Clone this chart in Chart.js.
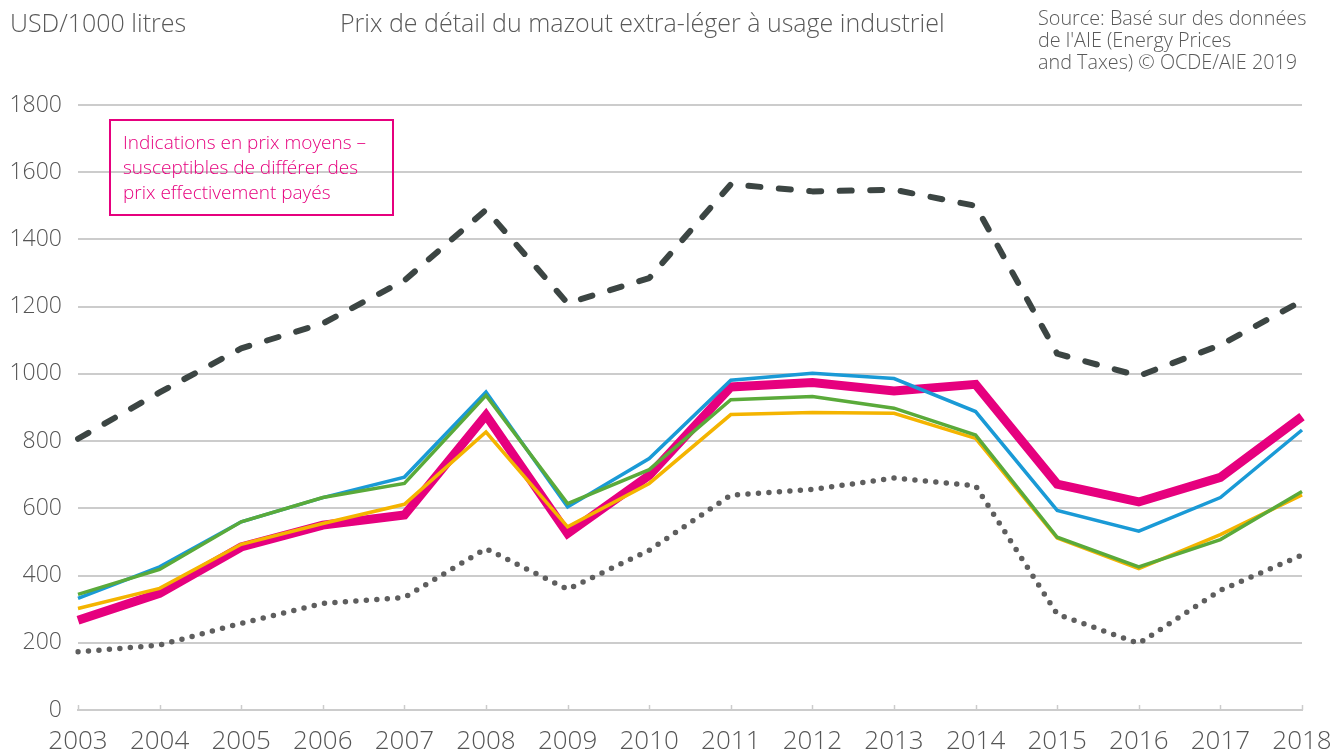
<!DOCTYPE html>
<html lang="fr">
<head>
<meta charset="utf-8">
<script src="https://cdn.jsdelivr.net/npm/chart.js@4/dist/chart.umd.min.js"></script>
<style>
  html, body { margin: 0; padding: 0; background: #fff; }
  #wrap { position: relative; width: 1335px; height: 754px; font-family: "Open Sans", "Noto Sans", sans-serif; font-weight: 300; }
  canvas { position: absolute; left: 0; top: 0; }
  .txt { position: absolute; color: #595959; white-space: nowrap; }
  #unit { left: 10px; top: 5px; font-size: 25px; line-height: 34px; }
  #title { left: 340px; top: 5px; font-size: 25px; line-height: 34px; }
  #source { left: 1038px; top: 7px; font-size: 19.8px; line-height: 22px; }
  #note { position: absolute; left: 109px; top: 119px; width: 285px; height: 97px; border: 2px solid #e6007e;
          color: #e6007e; font-size: 19px; line-height: 25px; padding: 0 0 0 12px; box-sizing: border-box; }
  #note div:first-child { margin-top: 9px; }
</style>
</head>
<body>
<div id="wrap">
  <canvas id="c" width="1335" height="754"></canvas>
  <div class="txt" id="unit">USD/1000 litres</div>
  <div class="txt" id="title">Prix de détail du mazout extra-léger à usage industriel</div>
  <div class="txt" id="source">Source: Basé sur des données<br>de l'AIE (Energy Prices<br>and Taxes) © OCDE/AIE 2019</div>
  <div id="note"><div>Indications en prix moyens –</div><div>susceptibles de différer des</div><div>prix effectivement payés</div></div>
</div>
<script>
const years = ["2003","2004","2005","2006","2007","2008","2009","2010","2011","2012","2013","2014","2015","2016","2017","2018"];
const yTicks = [0, 200, 400, 600, 800, 1000, 1200, 1400, 1600, 1800];

const seriesDashed = [807, 945, 1076, 1150, 1278, 1488, 1210, 1285, 1564, 1543, 1548, 1500, 1060, 994, 1086, 1217];
const seriesBlue   = [332, 426, 560, 632, 693, 946, 604, 748, 981, 1002, 986, 888, 594, 532, 632, 833];
const seriesGreen  = [344, 418, 560, 632, 674, 936, 614, 715, 923, 933, 898, 818, 514, 426, 507, 650];
const seriesYellow = [302, 362, 493, 555, 612, 827, 545, 674, 879, 885, 883, 808, 512, 421, 522, 640];
const seriesPink   = [267, 347, 485, 550, 580, 877, 525, 698, 961, 974, 949, 969, 672, 619, 692, 873];
const seriesDotted = [173, 193, 258, 317, 335, 480, 359, 475, 639, 656, 690, 667, 285, 198, 356, 461];

const FONT = "'Open Sans', 'Noto Sans', sans-serif";
const GRID = "#cccccc";

const upTicks = {
  id: 'upTicks',
  afterDraw(chart) {
    const x = chart.scales.x, y = chart.scales.y;
    const ctx = chart.ctx;
    const base = y.getPixelForValue(0);
    ctx.save();
    ctx.strokeStyle = GRID;
    ctx.lineWidth = 1.5;
    years.forEach((_, i) => {
      const px = Math.round(x.getPixelForTick(i)) + 0.5;
      ctx.beginPath();
      ctx.moveTo(px, base - 5);
      ctx.lineTo(px, base);
      ctx.stroke();
    });
    ctx.restore();
  }
};

function ds(data, color, width, order, extra) {
  return Object.assign({
    data, borderColor: color, backgroundColor: color, borderWidth: width,
    pointRadius: 0, pointHoverRadius: 0, tension: 0, fill: false, order,
    borderJoinStyle: 'miter'
  }, extra || {});
}

new Chart(document.getElementById('c'), {
  type: 'line',
  data: {
    labels: years,
    datasets: [
      ds(seriesDotted, '#5e5e5e', 5.5, 5, { borderDash: [0, 10.5], borderCapStyle: 'round', borderJoinStyle: 'round' }),
      ds(seriesDashed, '#3c4543', 6, 4, { borderDash: [12, 18.5], borderCapStyle: 'round', borderJoinStyle: 'round' }),
      ds(seriesPink, '#e6007e', 9, 3),
      ds(seriesYellow, '#f4b400', 3.5, 2),
      ds(seriesBlue, '#1a9ad6', 3.5, 1),
      ds(seriesGreen, '#5aaa3a', 3.5, 0)
    ]
  },
  options: {
    responsive: false,
    animation: false,
    devicePixelRatio: 1,
    layout: { padding: { left: 0, right: 33, top: 105, bottom: 0 } },
    plugins: { legend: { display: false }, tooltip: { enabled: false }, title: { display: false } },
    scales: {
      x: {
        offset: false,
        grid: { display: false, drawTicks: false },
        border: { display: true, color: GRID, width: 2 },
        ticks: { color: '#555', font: { family: FONT, size: 26, weight: 300 }, padding: 16, maxRotation: 0, autoSkip: false },
        afterFit(s) { s.height = 44; s.paddingLeft = 0; s.paddingRight = 0; }
      },
      y: {
        min: 0, max: 1800,
        afterBuildTicks(s) { s.ticks = yTicks.map(v => ({ value: v })); },
        grid: { color: GRID, lineWidth: 2, drawTicks: false },
        border: { display: false },
        ticks: { color: '#555', font: { family: FONT, size: 23, weight: 300 }, padding: 16,
                 callback: (v) => String(v) },
        afterFit(s) { s.width = 78; s.paddingTop = 0; s.paddingBottom = 0; }
      }
    }
  },
  plugins: [upTicks]
});
</script>
</body>
</html>
